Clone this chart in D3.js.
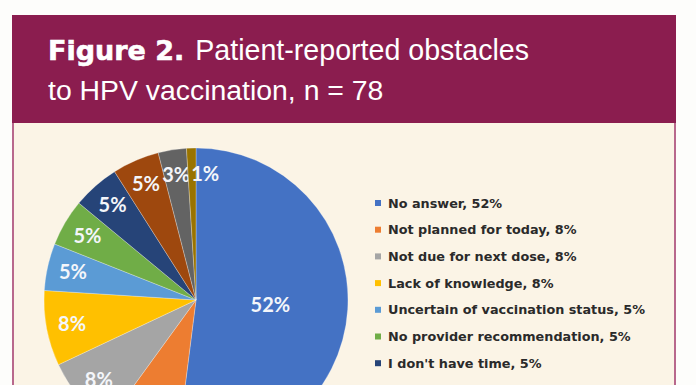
<!DOCTYPE html>
<html>
<head>
<meta charset="utf-8">
<script src="https://cdn.jsdelivr.net/npm/d3@7/dist/d3.min.js"></script>
<style>
  body { margin: 0; background: #fdfdfb; }
  svg { display: block; }
</style>
</head>
<body>
<svg width="696" height="385"></svg>
<script>
var categories = ["No answer", "Not planned for today", "Not due for next dose", "Lack of knowledge",
  "Uncertain of vaccination status", "No provider recommendation", "I don't have time",
  "Safety concerns", "Cost", "Other"];
var values = [52, 8, 8, 8, 5, 5, 5, 5, 3, 1];
var colors = ["#4472c4", "#ed7d31", "#a5a5a5", "#ffc000", "#5b9bd5", "#70ad47", "#264478", "#9e480e", "#636363", "#997300"];

var data = categories.map(function(c, i) { return { name: c, value: values[i] }; });

var svg = d3.select("svg"),
  width = +svg.attr("width"),
  height = +svg.attr("height");

var color = d3.scaleOrdinal().domain(categories).range(colors);

// frame
svg.append("rect").attr("x", 12).attr("y", 123).attr("width", 664).attr("height", 300)
  .attr("fill", "#fbf4e6");
svg.append("line").attr("x1", 13).attr("x2", 13).attr("y1", 123).attr("y2", height)
  .attr("stroke", "#b8688c").attr("stroke-width", 2);
svg.append("line").attr("x1", 675).attr("x2", 675).attr("y1", 123).attr("y2", height)
  .attr("stroke", "#b8688c").attr("stroke-width", 2);
svg.append("rect").attr("x", 12).attr("y", 15).attr("width", 664).attr("height", 108)
  .attr("fill", "#8b1d4f");

var title = svg.append("text").attr("x", 48).attr("y", 60)
  .attr("fill", "#fff").style("font-family", "'Liberation Sans', Arial, sans-serif").style("font-size", "28.6px");
title.append("tspan").text("Figure 2.").style("font-family", "'DejaVu Sans', sans-serif")
  .style("font-weight", "bold").style("font-size", "27px")
  .attr("stroke", "#fff").attr("stroke-width", 0.6);
title.append("tspan").attr("dx", 3).text(" Patient-reported obstacles");
svg.append("text").attr("x", 48).attr("y", 100).attr("fill", "#fff")
  .style("font-family", "'Liberation Sans', Arial, sans-serif").style("font-size", "28.4px")
  .text("to HPV vaccination, n = 78");

// pie
var radius = 152;
var pie = d3.pie().sort(null).value(function(d) { return d.value; });
var path = d3.arc().outerRadius(radius).innerRadius(0);
var labelBig = d3.arc().outerRadius(radius * 0.49).innerRadius(radius * 0.49);
var labelSmall = d3.arc().outerRadius(radius * 0.83).innerRadius(radius * 0.83);

var g = svg.append("g").attr("transform", "translate(196,300)");
var arc = g.selectAll(".arc").data(pie(data)).enter().append("g").attr("class", "arc");

arc.append("path").attr("d", path)
  .attr("fill", function(d) { return color(d.data.name); })
  .attr("stroke", "#fff").attr("stroke-opacity", 0.35).attr("stroke-width", 0.8);

var labels = arc.append("text")
  .each(function(d) {
    var l = d.data.value > 20 ? labelBig : labelSmall;
    d.pos = l.centroid(d);
  })
  .attr("dy", "0.35em")
  .attr("text-anchor", "middle")
  .attr("fill", "#f4f6fa")
  .style("font-family", "Lato, sans-serif").style("font-weight", "bold").style("font-size", "20px")
  .text(function(d) { return d.data.value + "%"; });

// push apart labels that collide (small slices near the top)
var prev = null;
labels.each(function(d) {
  d.w = this.getComputedTextLength();
  if (prev && Math.abs(d.pos[1] - prev.pos[1]) < 16) {
    var minX = prev.pos[0] + prev.w / 2 + d.w / 2 + 1;
    if (d.pos[0] < minX) d.pos[0] = minX;
  }
  prev = d;
});
labels.attr("transform", function(d) { return "translate(" + d.pos + ")"; });

// legend
var lg = svg.append("g").attr("transform", "translate(375,203)");
var rows = lg.selectAll("g").data(data).enter().append("g")
  .attr("transform", function(d, i) { return "translate(0," + (i * 26.7) + ")"; });
rows.append("rect").attr("x", 0).attr("y", -3).attr("width", 6).attr("height", 6)
  .attr("fill", function(d) { return color(d.name); });
rows.append("text").attr("x", 13).attr("dy", "0.36em")
  .attr("fill", "#2a2a2a")
  .style("font-family", "'DejaVu Sans', sans-serif").style("font-weight", "bold").style("font-size", "12.8px")
  .text(function(d) { return d.name + ", " + d.value + "%"; });
</script>
</body>
</html>
